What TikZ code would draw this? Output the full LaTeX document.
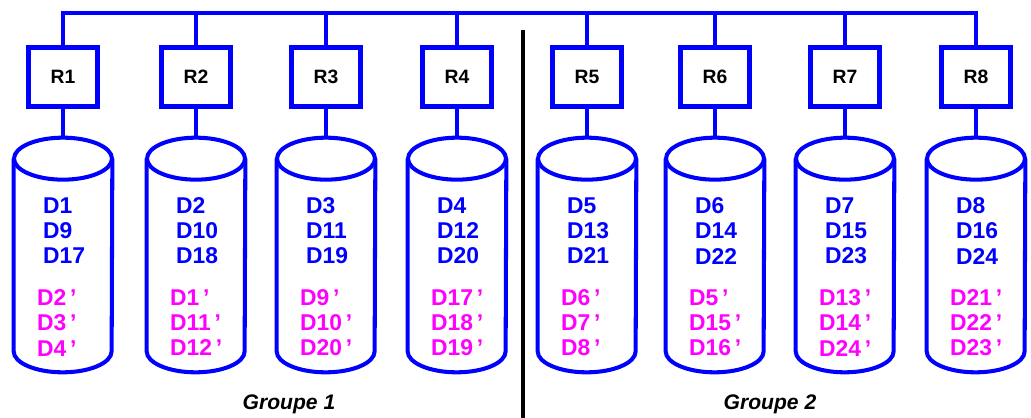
\documentclass[tikz,border=0pt]{standalone}
\usepackage{fontspec}
\setmainfont{Liberation Sans}
\usepackage{tikz}
\definecolor{netblue}{RGB}{0,0,255}
\definecolor{copypink}{RGB}{255,0,255}

\begin{document}
\begin{tikzpicture}[x=0.02cm,y=-0.02cm,
  bus/.style={draw=netblue, line width=2.8pt},
  rbox/.style={draw=netblue, line width=3pt, fill=white, inner sep=0pt,
    minimum width=1.38cm, minimum height=1.18cm,
    font=\bfseries\fontsize{11}{12}\selectfont},
  disk/.style={minimum width=1.96cm, minimum height=4.68cm, inner sep=0pt},
  diskline/.style={draw=netblue, line width=2.3pt},
  primary/.style={text=netblue, align=left, anchor=west,
    font=\bfseries\fontsize{13}{14.3}\selectfont},
  mirror/.style={primary, text=copypink}
]
\useasboundingbox (0,0) rectangle (1031,418);

% routers and disks
\foreach \i/\x/\main/\copies in {
  1/63/{D1\\D9\\D17}/{D2\,'\\D3\,'\\D4\,'},
  2/196/{D2\\D10\\D18}/{D1\,'\\D11\,'\\D12\,'},
  3/326/{D3\\D11\\D19}/{D9\,'\\D10\,'\\D20\,'},
  4/457/{D4\\D12\\D20}/{D17\,'\\D18\,'\\D19\,'},
  5/587/{D5\\D13\\D21}/{D6\,'\\D7\,'\\D8\,'},
  6/715/{D6\\D14\\D22}/{D5\,'\\D15\,'\\D16\,'},
  7/845/{D7\\D15\\D23}/{D13\,'\\D14\,'\\D24\,'},
  8/976/{D8\\D16\\D24}/{D21\,'\\D22\,'\\D23\,'}}
{
  \node[rbox] (r\i) at (\x,77) {R\i};
  \node[disk] (d\i) at (\x,255) {};
  \draw[diskline] ([yshift=-0.42cm]d\i.north west) -- ([yshift=0.42cm]d\i.south west)
    arc[start angle=180, end angle=360, x radius=0.98cm, y radius=0.42cm]
    -- ([yshift=-0.42cm]d\i.north east);
  \draw[diskline] ([yshift=-0.42cm]d\i.north) ellipse[x radius=0.98cm, y radius=0.42cm];
  \node[primary] (p\i) at ([shift={(-26,-24)}]d\i.center) {\main};
  \node[mirror] (m\i) at ([shift={(-32,68)}]d\i.center) {\copies};
  \draw[bus] (r\i.south) -- (d\i.north);
}

% bus
\coordinate (bus) at (0,13);
\draw[bus] (r1.north) |- (bus -| r8.north) -- (r8.north);
\foreach \i in {2,...,7}
  \draw[bus] (r\i.north) -- (r\i.north |- bus);

% groups
\coordinate (sepTop) at (523,30);
\draw[line width=2.3pt] (sepTop) -- (sepTop |- 0,418);
\node[font=\bfseries\itshape\fontsize{12}{12}\selectfont] (g1) at (289,404) {Groupe 1};
\node[font=\bfseries\itshape\fontsize{12}{12}\selectfont] (g2) at (770,404) {Groupe 2};

\end{tikzpicture}
\end{document}
